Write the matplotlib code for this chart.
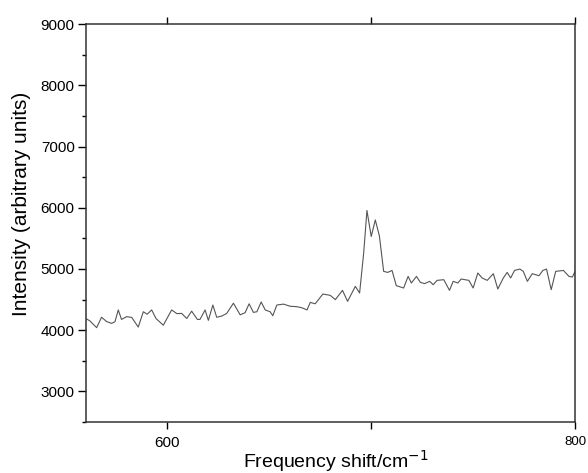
import matplotlib
matplotlib.use('Agg')
import matplotlib.pyplot as plt
from matplotlib.ticker import MultipleLocator

plt.rcParams['font.family'] = ['Liberation Sans', 'DejaVu Sans']

# Raman spectrum
shift = [560.0, 562.0, 565.3, 567.7, 570.2, 572.6, 574.3, 575.9, 577.5, 580.0,
         582.5, 585.7, 588.2, 590.1, 592.3, 594.4, 598.0, 602.1, 604.6, 607.0,
         609.5, 611.9, 614.7, 616.0, 618.5, 620.1, 622.3, 624.2, 626.7, 629.1,
         632.4, 635.7, 638.1, 640.1, 642.2, 643.9, 646.0, 648.0, 650.4, 651.7,
         653.7, 657.0, 660.2, 663.5, 666.0, 668.5, 670.1, 672.5, 676.3, 679.9,
         682.4, 685.9, 688.4, 692.2, 694.3, 696.3, 697.9, 700.0, 702.0, 704.0,
         706.1, 708.1, 710.2, 712.3, 715.9, 718.1, 719.7, 722.2, 724.1, 726.2,
         728.7, 730.4, 732.3, 735.6, 738.4, 740.2, 742.5, 744.1, 747.9, 750.0,
         752.3, 754.4, 756.9, 759.9, 762.1, 764.8, 766.7, 768.4, 770.3, 772.9,
         774.6, 776.6, 779.0, 782.3, 784.2, 786.0, 788.3, 790.5, 794.3, 797.0,
         798.7, 800.0]
intensity = [4190, 4150, 4040, 4210, 4140, 4110, 4137, 4330, 4175, 4220,
             4208, 4050, 4300, 4260, 4330, 4190, 4080, 4330, 4270, 4273,
             4190, 4310, 4175, 4175, 4330, 4160, 4410, 4210, 4230, 4273,
             4440, 4250, 4284, 4430, 4290, 4300, 4460, 4330, 4300, 4235,
             4410, 4425, 4390, 4383, 4365, 4330, 4453, 4430, 4590, 4568,
             4498, 4650, 4470, 4715, 4607, 5260, 5955, 5530, 5800, 5540,
             4960, 4943, 4975, 4726, 4688, 4878, 4770, 4878, 4780, 4760,
             4797, 4742, 4813, 4824, 4650, 4797, 4770, 4835, 4813, 4688,
             4933, 4852, 4813, 4922, 4672, 4852, 4943, 4852, 4975, 4998,
             4960, 4797, 4922, 4889, 4975, 4998, 4661, 4960, 4975, 4878,
             4868, 4960]

xticks = [600, 700, 800]
xticklabels = ['600', '', '800']
yticks = [3000, 4000, 5000, 6000, 7000, 8000, 9000]

fig = plt.figure(figsize=(5.88, 4.73), dpi=100)
ax = fig.add_axes([0.146, 0.108, 0.832, 0.841])

ax.plot(shift, intensity, color='#555555', linewidth=0.8)

ax.set_xlim(560, 800)
ax.set_ylim(2500, 9000)

ax.set_xticks(xticks)
ax.set_xticklabels(xticklabels)
ax.set_yticks(yticks)
ax.yaxis.set_minor_locator(MultipleLocator(500))

ax.tick_params(axis='y', which='major', direction='out', length=6, width=1,
               labelsize=11, pad=2)
ax.tick_params(axis='y', which='minor', direction='out', length=3, width=1)
ax.tick_params(axis='x', which='major', direction='out', length=5, width=1,
               labelsize=11, pad=5, top=True)
ax.xaxis.get_majorticklabels()[2].set_fontsize(9.5)

for s in ax.spines.values():
    s.set_linewidth(1.1)
    s.set_color('#333333')

ax.set_xlabel(r'Frequency shift/cm$^{-1}$', fontsize=14)
ax.set_ylabel('Intensity (arbitrary units)', fontsize=15)
ax.xaxis.set_label_coords(0.511, -0.065)
ax.yaxis.set_label_coords(-0.112, 0.548)

plt.savefig('out.png', dpi=100)
